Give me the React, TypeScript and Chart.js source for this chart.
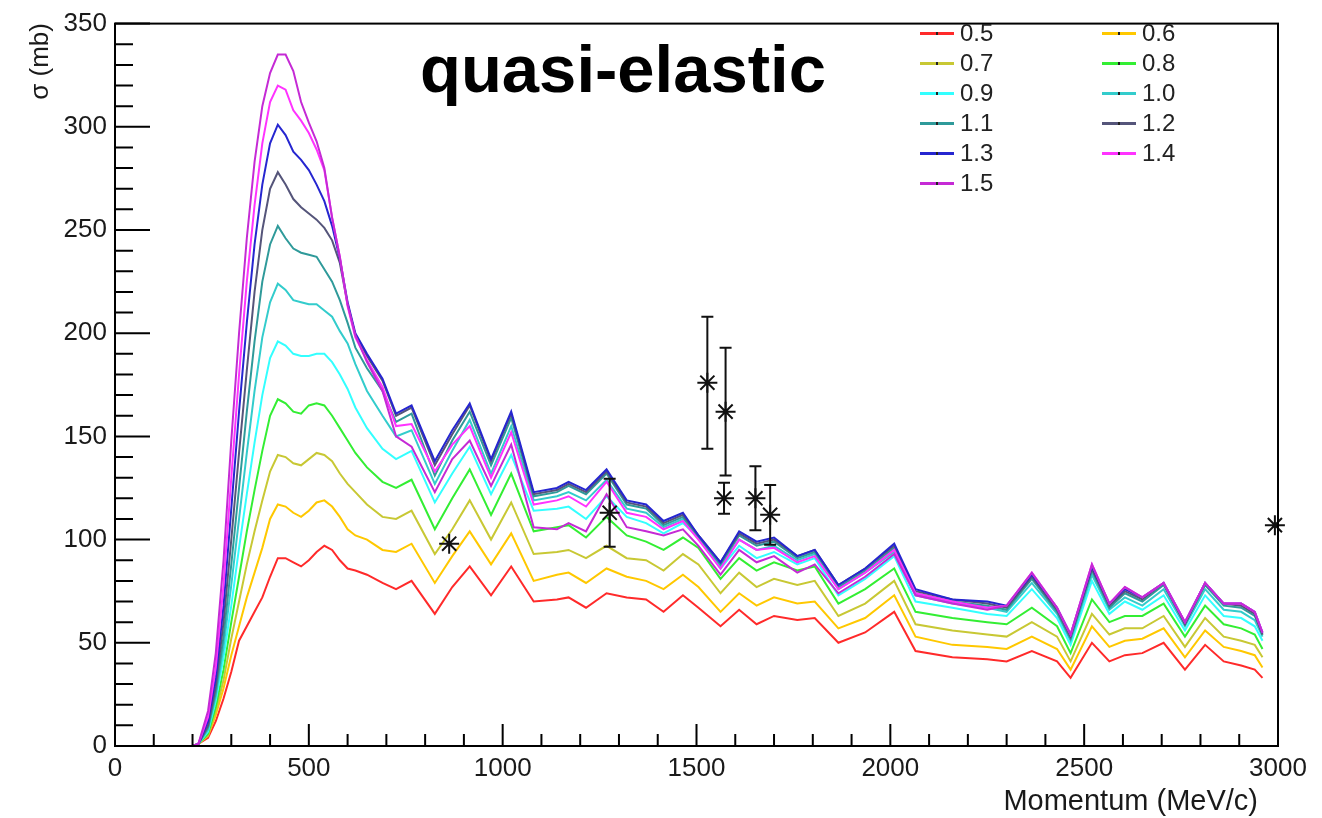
import React, { useEffect, useRef } from 'react';
import { Chart, registerables } from 'chart.js';

Chart.register(...registerables);

// ---- data ----
const momentum = [
  0, 200, 215, 240, 260, 280, 300, 320, 340, 360,
  380, 400, 420, 440, 460, 480, 500, 520, 540, 560,
  580, 600, 620, 650, 690, 725, 765, 825, 870, 915,
  970, 1022, 1080, 1140, 1170, 1215, 1268, 1320, 1370, 1415,
  1465, 1505, 1562, 1610, 1655, 1700, 1760, 1805, 1866, 1935,
  2010, 2065, 2160, 2250, 2300, 2365, 2430, 2465, 2520, 2565,
  2605, 2650, 2705, 2760, 2812, 2860, 2905, 2940, 2960,
];

const sigma05 = [0, 0, 1, 4, 12, 23, 36, 51, 58, 65, 72, 82, 91, 91, 89, 87, 90, 94, 97, 95, 90, 86, 85, 83, 79, 76, 80, 64, 77, 87, 73, 87, 70, 71, 72, 67, 74, 72, 71, 65, 73, 67, 58, 66, 59, 63, 61, 62, 50, 55, 65, 46, 43, 42, 41, 46, 41, 33, 50, 41, 44, 45, 50, 37, 49, 41, 39, 37, 33];
const sigma06 = [0, 0, 1, 5, 15, 28, 44, 58, 72, 84, 96, 110, 117, 116, 113, 111, 114, 118, 119, 116, 111, 105, 102, 100, 95, 94, 98, 79, 92, 104, 88, 103, 80, 83, 84, 79, 86, 82, 80, 76, 83, 77, 65, 74, 68, 72, 69, 70, 57, 62, 73, 53, 49, 48, 47, 53, 47, 37, 58, 48, 51, 52, 57, 43, 56, 48, 46, 44, 38];
const sigma07 = [0, 0, 1, 5, 17, 32, 52, 70, 88, 104, 119, 133, 141, 140, 137, 136, 139, 142, 141, 138, 132, 127, 123, 117, 111, 110, 114, 93, 105, 119, 100, 118, 93, 94, 95, 91, 97, 91, 90, 85, 93, 88, 74, 84, 77, 81, 78, 80, 63, 69, 80, 59, 56, 54, 53, 60, 53, 41, 64, 54, 57, 57, 63, 48, 62, 53, 51, 49, 43];
const sigma08 = [0, 0, 1, 6, 19, 37, 60, 82, 104, 124, 143, 160, 168, 166, 162, 161, 165, 166, 165, 160, 154, 148, 142, 135, 128, 125, 129, 105, 120, 134, 112, 132, 104, 106, 107, 101, 111, 102, 99, 95, 101, 96, 81, 91, 85, 89, 85, 87, 69, 76, 86, 65, 62, 60, 59, 67, 58, 45, 71, 60, 63, 63, 69, 53, 68, 59, 57, 54, 47];
const sigma09 = [0, 0, 1, 7, 22, 43, 68, 96, 122, 147, 170, 188, 196, 194, 190, 189, 189, 190, 190, 186, 180, 173, 164, 154, 144, 139, 143, 118, 132, 145, 122, 141, 114, 115, 116, 110, 121, 111, 108, 103, 108, 101, 86, 97, 91, 94, 88, 91, 73, 81, 92, 70, 67, 64, 63, 76, 62, 49, 80, 64, 70, 66, 73, 56, 73, 63, 62, 58, 51];
const sigma10 = [0, 0, 1, 8, 24, 48, 78, 110, 142, 172, 198, 215, 224, 221, 216, 215, 214, 214, 211, 208, 201, 195, 185, 172, 160, 150, 153, 127, 143, 158, 132, 155, 119, 121, 123, 119, 129, 115, 113, 106, 110, 101, 87, 100, 95, 97, 90, 93, 76, 84, 94, 73, 69, 67, 65, 79, 64, 51, 83, 66, 72, 68, 76, 58, 76, 66, 65, 61, 53];
const sigma11 = [0, 0, 1, 9, 26, 53, 88, 125, 162, 196, 225, 243, 252, 246, 241, 239, 238, 237, 231, 225, 216, 205, 193, 183, 172, 157, 161, 131, 148, 162, 136, 159, 121, 123, 126, 122, 132, 117, 115, 107, 111, 101, 88, 102, 97, 99, 91, 94, 77, 85, 96, 74, 70, 68, 66, 81, 65, 52, 85, 67, 74, 70, 78, 59, 78, 68, 67, 63, 54];
const sigma12 = [0, 0, 1, 10, 29, 60, 100, 142, 182, 220, 250, 270, 278, 272, 265, 261, 258, 255, 251, 245, 234, 214, 199, 189, 177, 160, 164, 136, 151, 165, 138, 161, 122, 124, 127, 123, 133, 118, 116, 108, 112, 102, 89, 103, 98, 100, 92, 95, 78, 86, 97, 75, 71, 69, 67, 82, 66, 53, 86, 68, 75, 71, 79, 59, 79, 69, 68, 64, 54];
const sigma13 = [0, 0, 1, 12, 33, 68, 115, 162, 205, 243, 272, 292, 301, 296, 288, 284, 279, 272, 264, 252, 236, 215, 200, 190, 178, 161, 165, 138, 153, 166, 139, 162, 123, 125, 128, 124, 134, 119, 117, 109, 113, 102, 89, 104, 99, 101, 92, 95, 78, 86, 98, 76, 71, 70, 68, 83, 67, 54, 87, 69, 76, 72, 79, 60, 79, 69, 69, 65, 55];
const sigma14 = [0, 0, 1, 14, 38, 78, 130, 180, 225, 262, 292, 312, 320, 318, 308, 303, 297, 289, 279, 256, 237, 213, 198, 187, 174, 155, 156, 133, 146, 155, 130, 152, 117, 119, 121, 116, 128, 113, 111, 105, 109, 100, 86, 100, 95, 96, 89, 92, 76, 84, 95, 74, 70, 67, 68, 84, 67, 54, 88, 69, 77, 72, 79, 60, 79, 69, 69, 65, 55];
const sigma15 = [0, 0, 1, 17, 45, 90, 148, 200, 246, 283, 310, 326, 335, 335, 327, 312, 302, 293, 280, 256, 237, 214, 199, 186, 172, 150, 145, 123, 139, 148, 126, 146, 106, 105, 108, 104, 122, 106, 104, 102, 105, 97, 83, 95, 89, 92, 84, 88, 74, 82, 93, 73, 69, 66, 68, 84, 67, 54, 88, 69, 77, 72, 79, 60, 79, 69, 69, 65, 55];

const seriesLabels = ['0.5', '0.6', '0.7', '0.8', '0.9', '1.0', '1.1', '1.2', '1.3', '1.4', '1.5'];
const seriesColors = ['#ff2a2a', '#ffc800', '#c8c834', '#33ee33', '#33ffff', '#33cccc', '#2f9a9a', '#55557a', '#2626d0', '#ff33ff', '#c52ad5'];

// measured points (asterisks) with error bars
const dataMomentum = [862, 1276, 1528, 1575, 1571, 1652, 1690, 2992];
const dataSigma = [98, 113, 176, 162, 120, 120, 112, 107];
const dataSigmaErr = [0, 16.5, 32, 31, 7.5, 15.5, 14.5, 0];

const xTickLabels = [0, 500, 1000, 1500, 2000, 2500, 3000];
const yTickLabels = [0, 50, 100, 150, 200, 250, 300, 350];

const FONT = '"Liberation Sans", Arial, Helvetica, sans-serif';
const W = 1322;
const H = 818;

const rootFrame = {
  id: 'rootFrame',
  afterDatasetsDraw(chart: any) {
    const { ctx, chartArea: a, scales } = chart;
    const xs = scales.x;
    const ys = scales.y;
    ctx.save();
    // error bars
    ctx.strokeStyle = '#111';
    ctx.lineWidth = 2;
    ctx.beginPath();
    for (let i = 0; i < dataMomentum.length; i++) {
      if (!dataSigmaErr[i]) continue;
      const px = xs.getPixelForValue(dataMomentum[i]);
      const top = ys.getPixelForValue(dataSigma[i] + dataSigmaErr[i]);
      const bot = ys.getPixelForValue(dataSigma[i] - dataSigmaErr[i]);
      ctx.moveTo(px, top); ctx.lineTo(px, bot);
      ctx.moveTo(px - 6, top); ctx.lineTo(px + 6, top);
      ctx.moveTo(px - 6, bot); ctx.lineTo(px + 6, bot);
    }
    ctx.stroke();
    // ticks
    ctx.strokeStyle = '#000';
    ctx.lineWidth = 2;
    ctx.beginPath();
    for (let i = 0; i < xTickLabels.length; i++) {
      const v = xTickLabels[i];
      const px = xs.getPixelForValue(v);
      ctx.moveTo(px, a.bottom); ctx.lineTo(px, a.bottom - 22);
      if (i < xTickLabels.length - 1) {
        const step = (xTickLabels[i + 1] - v) / 5;
        for (let k = 1; k < 5; k++) {
          const mx = xs.getPixelForValue(v + k * step);
          ctx.moveTo(mx, a.bottom); ctx.lineTo(mx, a.bottom - 12);
        }
      }
    }
    for (let i = 0; i < yTickLabels.length; i++) {
      const v = yTickLabels[i];
      const py = ys.getPixelForValue(v);
      ctx.moveTo(a.left, py); ctx.lineTo(a.left + 35, py);
      if (i < yTickLabels.length - 1) {
        const step = (yTickLabels[i + 1] - v) / 5;
        for (let k = 1; k < 5; k++) {
          const my = ys.getPixelForValue(v + k * step);
          ctx.moveTo(a.left, my); ctx.lineTo(a.left + 18, my);
        }
      }
    }
    ctx.stroke();
    ctx.lineWidth = 2;
    ctx.strokeRect(a.left, a.top, a.right - a.left, a.bottom - a.top);
    ctx.restore();
  },
};

export default function App() {
  const canvasRef = useRef<HTMLCanvasElement | null>(null);

  useEffect(() => {
    const canvas = canvasRef.current;
    if (!canvas) return;
    const curves = [sigma05, sigma06, sigma07, sigma08, sigma09, sigma10, sigma11, sigma12, sigma13, sigma14, sigma15];
    const datasets: any[] = curves.map((vals, i) => ({
      label: seriesLabels[i],
      data: momentum.map((m, j) => ({ x: m, y: vals[j] })),
      borderColor: seriesColors[i],
      backgroundColor: seriesColors[i],
      borderWidth: 2,
      pointRadius: 0,
      tension: 0,
      fill: false,
      order: 20 - i,
    }));
    datasets.push({
      label: 'data',
      data: dataMomentum.map((m, j) => ({ x: m, y: dataSigma[j] })),
      showLine: false,
      pointStyle: 'star',
      pointRadius: 10,
      pointBorderWidth: 2,
      borderColor: '#111',
      backgroundColor: '#111',
      order: 0,
      clip: false,
    });

    const tickFont = { family: FONT, size: 26 };
    const chart = new Chart(canvas, {
      type: 'line',
      data: { datasets },
      options: {
        responsive: false,
        animation: false,
        devicePixelRatio: 1,
        events: [],
        layout: { padding: { left: 0, right: 44, top: 19, bottom: 0 } },
        plugins: {
          legend: { display: false },
          tooltip: { enabled: false },
          title: { display: false },
        },
        scales: {
          x: {
            type: 'linear',
            min: 0,
            max: 3000,
            afterBuildTicks: (s: any) => { s.ticks = xTickLabels.map((v) => ({ value: v })); },
            afterFit: (s: any) => { s.height = 72; },
            grid: { display: false, drawTicks: false },
            border: { display: false },
            ticks: {
              autoSkip: false,
              maxRotation: 0,
              padding: 7,
              color: '#1a1a1a',
              font: tickFont,
              callback: (v: any) => String(v),
            },
          },
          y: {
            type: 'linear',
            min: 0,
            max: 350,
            afterBuildTicks: (s: any) => { s.ticks = yTickLabels.map((v) => ({ value: v })); },
            afterFit: (s: any) => { s.width = 115; },
            grid: { display: false, drawTicks: false },
            border: { display: false },
            ticks: {
              autoSkip: false,
              padding: 8,
              color: '#1a1a1a',
              font: tickFont,
              callback: (v: any) => String(v),
            },
          },
        },
      } as any,
      plugins: [rootFrame],
    });
    return () => chart.destroy();
  }, []);

  return (
    <div style={{ position: 'absolute', left: 0, top: 0, width: W, height: H, background: '#fff', overflow: 'hidden', fontFamily: FONT }}>
      <canvas ref={canvasRef} width={W} height={H} style={{ display: 'block', width: W, height: H }} />
      <div style={{ position: 'absolute', left: 420, top: 36, fontSize: 67, lineHeight: '66px', fontWeight: 'bold', color: '#000', whiteSpace: 'nowrap' }}>
        quasi-elastic
      </div>
      <div style={{ position: 'absolute', left: -2, top: 49, width: 82, height: 30, lineHeight: '30px', fontSize: 26, color: '#1a1a1a', textAlign: 'right', transform: 'rotate(-90deg)', whiteSpace: 'nowrap' }}>
        σ (mb)
      </div>
      <div style={{ position: 'absolute', right: W - 1258, top: 783, height: 34, lineHeight: '34px', fontSize: 29, color: '#1a1a1a', whiteSpace: 'nowrap' }}>
        Momentum (MeV/c)
      </div>
      {seriesLabels.map((lab, i) => {
        const col = i % 2;
        const row = Math.floor(i / 2);
        const cy = 33 + row * 30;
        const lx = col ? 1102 : 920;
        const tx = col ? 1142 : 960;
        return (
          <React.Fragment key={lab}>
            <div style={{ position: 'absolute', left: lx, top: cy - 1, width: 34, height: 3, background: seriesColors[i] }} />
            <div style={{ position: 'absolute', left: lx + 16, top: cy - 1, width: 2, height: 3, background: '#222' }} />
            <div style={{ position: 'absolute', left: tx, top: cy - 15, height: 30, lineHeight: '30px', fontSize: 24, color: '#222', whiteSpace: 'nowrap' }}>
              {lab}
            </div>
          </React.Fragment>
        );
      })}
    </div>
  );
}
